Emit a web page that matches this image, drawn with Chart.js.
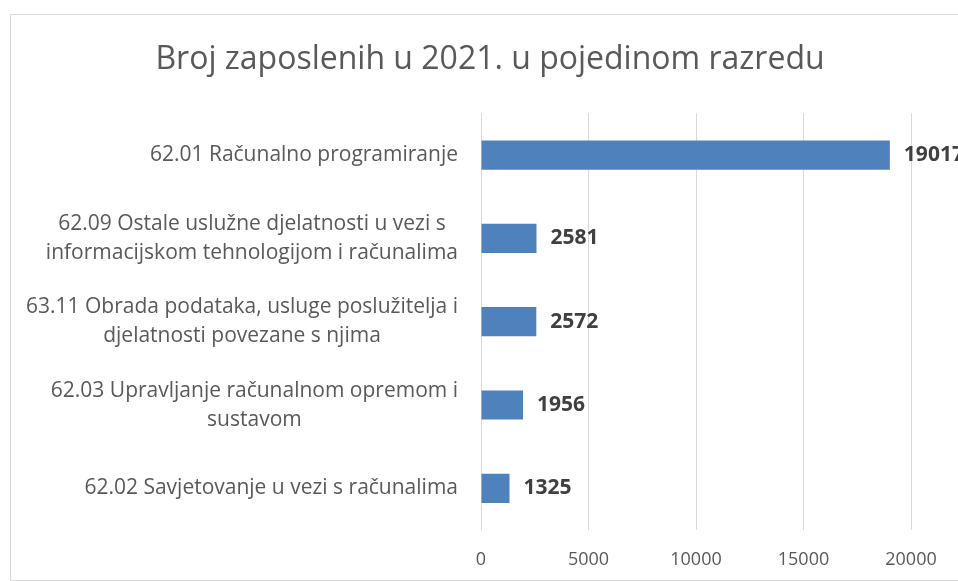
<!DOCTYPE html>
<html>
<head>
<meta charset="utf-8">
<script src="https://cdn.jsdelivr.net/npm/chart.js@4/dist/chart.umd.min.js"></script>
<style>
  html, body { margin: 0; padding: 0; overflow: hidden; background: #fff; width: 958px; height: 581px; }
  .frame { position: absolute; left: 10px; top: 14px; width: 960px; height: 567px; border: 1px solid #d9d9d9; box-sizing: border-box; }
  #chart { position: absolute; left: 10px; top: 14px; }
</style>
</head>
<body>
<div class="frame"></div>
<canvas id="chart" width="960" height="567"></canvas>
<script>
const title = "Broj zaposlenih u 2021. u pojedinom razredu";
const categories = [
    ["62.01 Računalno programiranje"],
    ["62.09 Ostale uslužne djelatnosti u vezi s", "informacijskom tehnologijom i računalima"],
    ["63.11 Obrada podataka, usluge poslužitelja i", "djelatnosti povezane s njima"],
    ["62.03 Upravljanje računalnom opremom i", "sustavom"],
    ["62.02 Savjetovanje u vezi s računalima"]
];
const employees = [19017, 2581, 2572, 1956, 1325];
const xMin = 0, xMax = 20000, xStep = 5000;

const FONT = "'Open Sans', sans-serif";

// category labels: block right-aligned, lines centred inside the block
const catLabels = {
    id: "catLabels",
    afterDraw(chart) {
        const ctx = chart.ctx;
        const y = chart.scales.y;
        ctx.save();
        ctx.font = "21px " + FONT;
        ctx.fillStyle = "#595959";
        ctx.textAlign = "center";
        ctx.textBaseline = "middle";
        const right = chart.chartArea.left - 23;
        const lh = 29;
        categories.forEach((lines, i) => {
            const py = y.getPixelForTick(i);
            const w = Math.max(...lines.map(l => ctx.measureText(l).width));
            const cx = right - w / 2;
            lines.forEach((l, j) => {
                ctx.fillText(l, cx, py + (j - (lines.length - 1) / 2) * lh);
            });
        });
        ctx.restore();
    }
};

const valueLabels = {
    id: "valueLabels",
    afterDatasetsDraw(chart) {
        const ctx = chart.ctx;
        const meta = chart.getDatasetMeta(0);
        ctx.save();
        ctx.font = "bold 21px " + FONT;
        ctx.fillStyle = "#404040";
        ctx.textAlign = "left";
        ctx.textBaseline = "middle";
        meta.data.forEach((bar, i) => {
            ctx.fillText(String(employees[i]), bar.x + 14, bar.y);
        });
        ctx.restore();
    }
};

new Chart(document.getElementById("chart"), {
    type: "bar",
    data: {
        labels: categories,
        datasets: [{
            data: employees,
            backgroundColor: "#4f81bd",
            borderWidth: 0,
            categoryPercentage: 1,
            barPercentage: 0.35
        }]
    },
    options: {
        indexAxis: "y",
        responsive: false,
        animation: false,
        layout: { padding: 0 },
        plugins: {
            legend: { display: false },
            tooltip: { enabled: false },
            title: {
                display: true,
                text: title,
                color: "#595959",
                font: { family: FONT, size: 32, weight: "normal" },
                padding: { top: 27, bottom: 34 }
            }
        },
        scales: {
            x: {
                min: xMin,
                max: xMax,
                ticks: {
                    stepSize: xStep,
                    color: "#595959",
                    font: { family: FONT, size: 18 },
                    padding: 19,
                    callback: v => String(v)
                },
                grid: { color: "#d9d9d9", lineWidth: 1, drawTicks: false },
                border: { display: false },
                afterFit(scale) { scale.height = 51; }
            },
            y: {
                ticks: { display: false },
                grid: { display: false },
                border: { display: false },
                afterFit(scale) { scale.width = 471; }
            },
            // empty right-hand gutter so the title stays centred on the whole frame
            gutter: {
                type: "linear",
                position: "right",
                display: true,
                ticks: { display: false },
                grid: { display: false },
                border: { display: false },
                afterFit(scale) { scale.width = 59; }
            }
        }
    },
    plugins: [catLabels, valueLabels]
});
</script>
</body>
</html>
